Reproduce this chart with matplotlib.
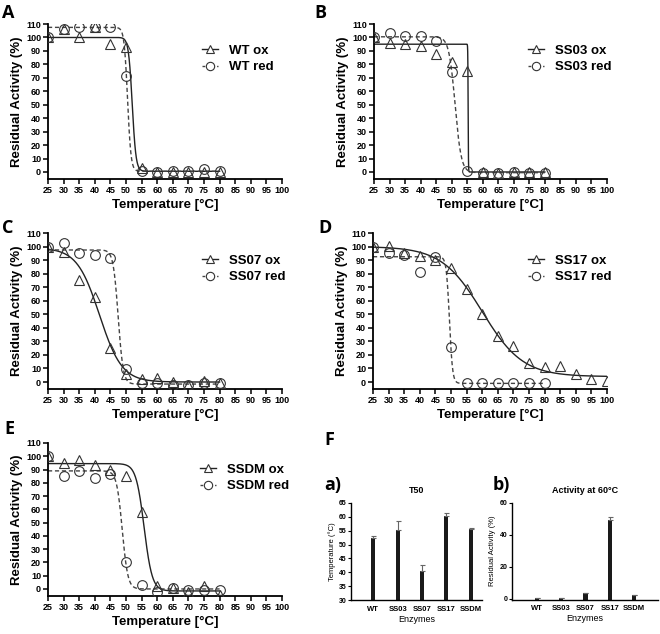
import numpy as np
import matplotlib
matplotlib.use("Agg")
import matplotlib.pyplot as plt
from matplotlib.lines import Line2D

plt.rcParams['font.family'] = ['Liberation Sans', 'DejaVu Sans']
plt.rcParams['font.weight'] = 'bold'

W, H = 660, 634

# ---------------- data ----------------
temps = [25, 30, 35, 40, 45, 50, 55, 60, 65, 70, 75, 80]
temps_long = [25, 30, 35, 40, 45, 50, 55, 60, 65, 70, 75, 80, 85, 90, 95, 100]

wt_ox = [100, 106, 100, 108, 95, 93, 3, 0, 0, 0, 0, 0]
wt_red = [100, 106, 108, 108, 107.5, 71, 0.5, 0, 0.5, 1, 2, 1]
ss03_ox = [100, 96, 95, 94, 87.5, 81.5, 75, 0, -1, 0, 0, 0]
ss03_red = [100, 103, 101, 101, 97, 74, 1, -1, -1, 0, -1, -1]
ss07_ox = [100, 96, 75, 63, 25, 6, 2, 3, 0, -2, 1, -1]
ss07_red = [100, 102.5, 95, 94, 91.5, 9.5, -1, -1, -2, -2, -1, -1]
ss17_ox = [100, 100.5, 95, 93, 90, 84, 69, 50, 34, 26.5, 14, 11, 12, 6, 2.5, 0.5]
ss17_red = [100, 95.5, 93.5, 81, 92.5, 26, -1, -1, -1, -1, -1, -1]
ssdm_ox = [100, 95, 97, 93.5, 90, 85, 58, 2, 0.5, -2, 2, -4.5]
ssdm_red = [100, 85, 89, 83.5, 87, 20.5, 3, -2, 0.5, -1, -1, -0.5]

# Boltzmann fit parameters: top, bottom, T50, slope
fit_wt_ox = [100, 0.5, 52.0, 0.6]
fit_wt_red = [107.5, 0.5, 50.5, 0.55]
fit_ss03_ox = [95, 0, 55.3, 0.05]
fit_ss03_red = [100.5, -0.5, 51.1, 1.0]
fit_ss07_ox = [99, 0, 41.5, 3.6]
fit_ss07_red = [97.5, -1.5, 47.5, 0.8]
fit_ss17_ox = [100, 4, 60.0, 6.5]
fit_ss17_red = [92.5, -1, 49.5, 0.5]
fit_ssdm_ox = [94.5, -1.5, 55.8, 1.3]
fit_ssdm_red = [89, 0, 48.8, 0.9]

enzymes = ['WT', 'SS03', 'SS07', 'SS17', 'SSDM']
t50 = [52.3, 55.1, 40.6, 60.4, 55.7]
t50_err = [0.8, 3.3, 1.9, 0.9, 0.3]
act60 = [0.6, 0.4, 3.4, 49.4, 2.4]
act60_err = [0.1, 0.1, 0.2, 1.8, 0.1]

xticks_t = list(range(25, 101, 5))
yticks_a = list(range(0, 111, 10))


def boltz(x, p):
    top, bot, t50_, s = p
    return bot + (top - bot) / (1.0 + np.exp((x - t50_) / s))


fig = plt.figure(figsize=(W / 100, H / 100), dpi=100)


def px_axes(l, r, top, bottom):
    return fig.add_axes([l / W, 1 - bottom / H, (r - l) / W, (bottom - top) / H])


def line_panel(ax, ox, red, fox, fred, name, ox_x=temps, fox_max=80, leg=(0, 0)):
    xs = np.linspace(25, 80, 600)
    xo = np.linspace(25, fox_max, 900)
    ax.plot(xo, boltz(xo, fox), color='#222222', lw=1.0, zorder=2)
    ax.plot(xs, boltz(xs, fred), color='#444444', lw=1.0, ls=(0, (3, 2)), zorder=2)
    ax.plot(ox_x, ox, ls='none', marker='^', ms=6.5, mfc='none', mec='#333333', mew=0.8, zorder=3)
    ax.plot(temps, red, ls='none', marker='o', ms=7, mfc='none', mec='#333333', mew=0.8, zorder=3)
    ax.set_xlim(25, 100)
    ax.set_ylim(-5, 110)
    ax.set_xticks(xticks_t)
    ax.set_yticks(yticks_a)
    ax.spines['top'].set_visible(False)
    ax.spines['right'].set_visible(False)
    for sp in ('left', 'bottom'):
        ax.spines[sp].set_linewidth(1.3)
    ax.tick_params(direction='out', length=3.5, width=1.1, labelsize=6.5, pad=1.5)
    for lab in ax.get_xticklabels() + ax.get_yticklabels():
        lab.set_fontweight('bold')
    ax.set_xlabel('Temperature [°C]', fontsize=9.5, fontweight='bold', labelpad=3)
    ax.set_ylabel('Residual Activity (%)', fontsize=9.5, fontweight='bold', labelpad=2)
    h1 = Line2D([], [], color='#222222', lw=1.0, marker='^', ms=6, mfc='white', mec='#333333', mew=0.8)
    h2 = Line2D([], [], color='#444444', lw=1.0, ls=(0, (2, 1.5)), marker='o', ms=6, mfc='white', mec='#333333', mew=0.8)
    fig.legend([h1, h2], [name + ' ox', name + ' red'], loc='center left',
               bbox_to_anchor=(leg[0] / W, 1 - leg[1] / H), bbox_transform=fig.transFigure,
               frameon=False, borderpad=0, borderaxespad=0, handlelength=1.25,
               handletextpad=0.8, labelspacing=0.3, prop={'size': 9.5, 'weight': 'bold'})


axA = px_axes(48, 282, 24, 178.7)
line_panel(axA, wt_ox, wt_red, fit_wt_ox, fit_wt_red, 'WT', leg=(202, 59))
axB = px_axes(374, 607, 24, 178.7)
line_panel(axB, ss03_ox, ss03_red, fit_ss03_ox, fit_ss03_red, 'SS03', leg=(528, 59))
axC = px_axes(48, 282, 233, 388.8)
line_panel(axC, ss07_ox, ss07_red, fit_ss07_ox, fit_ss07_red, 'SS07', leg=(202, 269))
axD = px_axes(373, 607, 233, 388.8)
line_panel(axD, ss17_ox, ss17_red, fit_ss17_ox, fit_ss17_red, 'SS17', ox_x=temps_long, fox_max=100, leg=(528, 269))
axE = px_axes(48, 282, 443, 595.6)
line_panel(axE, ssdm_ox, ssdm_red, fit_ssdm_ox, fit_ssdm_red, 'SSDM', leg=(200, 478))


def bar_panel(ax, vals, errs, title, ylabel, ylim, yticks, xlim):
    pos = np.arange(len(enzymes))
    ax.bar(pos, np.array(vals) - ylim[0], bottom=ylim[0], width=0.17, color='#1a1a1a', zorder=2)
    ax.errorbar(pos, vals, yerr=[np.zeros(len(errs)), errs], fmt='none', ecolor='#666666',
                elinewidth=0.8, capsize=1.8, capthick=0.8, zorder=3)
    ax.set_xlim(*xlim)
    ax.set_ylim(*ylim)
    ax.set_yticks(yticks)
    ax.set_xticks(pos)
    ax.set_xticklabels(enzymes)
    ax.spines['top'].set_visible(False)
    ax.spines['right'].set_visible(False)
    for sp in ('left', 'bottom'):
        ax.spines[sp].set_linewidth(1.0)
    ax.tick_params(axis='y', direction='out', length=2.5, width=0.8, labelsize=5, pad=1)
    ax.tick_params(axis='x', length=0, labelsize=5.5, pad=4)
    for lab in ax.get_xticklabels() + ax.get_yticklabels():
        lab.set_fontweight('bold')
    ax.set_title(title, fontsize=6.5, fontweight='bold', pad=7)
    ax.set_xlabel('Enzymes', fontsize=6.5, fontweight='normal', labelpad=1.5)
    ax.set_ylabel(ylabel, fontsize=5.5, fontweight='normal', labelpad=2)


axFa = px_axes(351, 482, 502.7, 600.3)
bar_panel(axFa, t50, t50_err, 'T50', 'Temperature (°C)', (30, 65), list(range(30, 66, 5)), (-0.92, 4.47))
axFb = px_axes(512, 658, 502.7, 599.7)
bar_panel(axFb, act60, act60_err, 'Activity at 60°C', 'Residual Activity (%)', (-0.6, 60), [0, 20, 40, 60], (-1.03, 4.99))

# panel letters
letters = [('A', 2, 18), ('B', 314, 18), ('C', 2, 233), ('D', 318, 233), ('E', 4, 434), ('F', 324, 445),
           ('a)', 324, 490), ('b)', 493, 490)]
for t, x, y in letters:
    fig.text(x / W, 1 - y / H, t, fontsize=13, fontweight='bold', family=['Open Sans', 'DejaVu Sans'],
             ha='left', va='baseline')

fig.savefig('out.png', dpi=100)
